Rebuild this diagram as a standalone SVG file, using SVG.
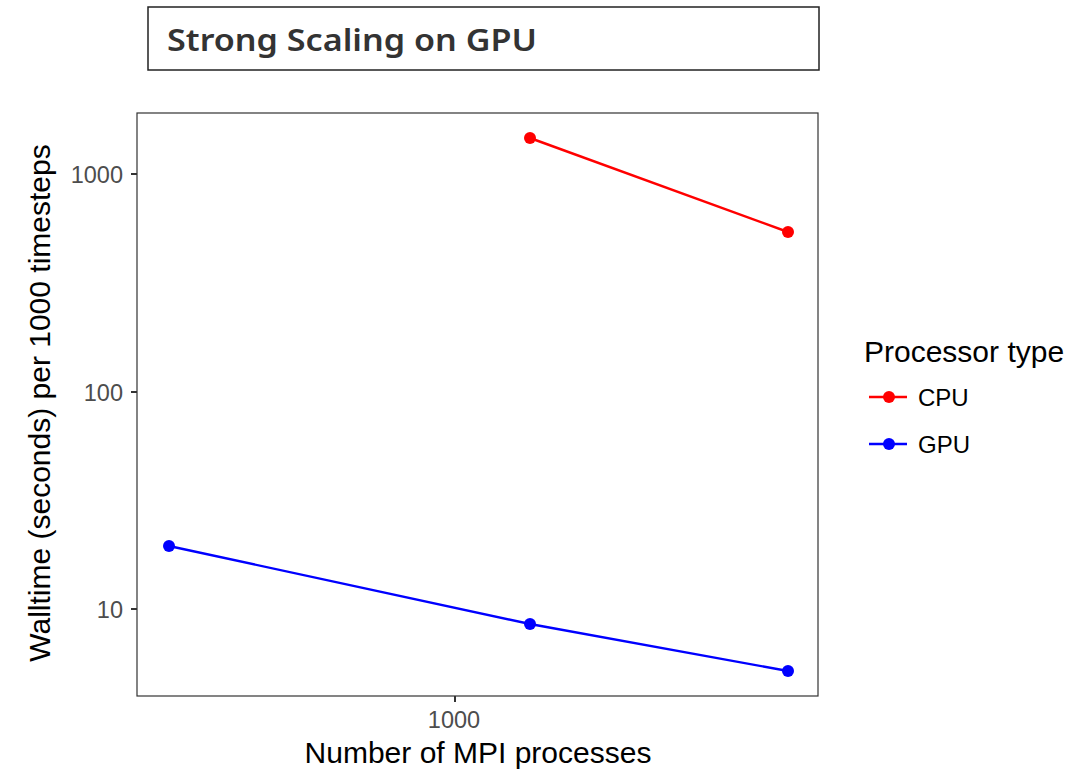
<svg xmlns="http://www.w3.org/2000/svg" width="1091" height="775" viewBox="0 0 1091 775">
<style>
.tick{font-family:"Liberation Sans",Arial,sans-serif;font-size:23.5px;fill:#4d4d4d}
.lab{font-family:"Liberation Sans",Arial,sans-serif;font-size:30px;fill:#000}
.leg{font-family:"Liberation Sans",Arial,sans-serif;font-size:24px;fill:#000}
.tk{stroke:#333;stroke-width:2}
</style>
<rect width="1091" height="775" fill="#fff"/>
<g id="title">
<rect x="148" y="7" width="671" height="63" fill="#fff" stroke="#222" stroke-width="1.5"/>
<text x="167" y="51" font-family="'Noto Sans','Open Sans',sans-serif" font-weight="600" font-size="31" fill="#333" textLength="370" lengthAdjust="spacingAndGlyphs">Strong Scaling on GPU</text>
</g>
<g id="panel">
<rect x="137" y="113" width="681" height="583" fill="#fff" stroke="#333" stroke-width="1.2"/>
<line class="tk" x1="131" y1="174" x2="137" y2="174"/>
<line class="tk" x1="131" y1="392" x2="137" y2="392"/>
<line class="tk" x1="131" y1="609" x2="137" y2="609"/>
<line class="tk" x1="455" y1="696" x2="455" y2="702"/>
<text class="tick" x="123" y="183" text-anchor="end">1000</text>
<text class="tick" x="123" y="401" text-anchor="end">100</text>
<text class="tick" x="123" y="618" text-anchor="end">10</text>
<text class="tick" x="454" y="728" text-anchor="middle">1000</text>
<text class="lab" x="478" y="763" text-anchor="middle">Number of MPI processes</text>
<text class="lab" x="0" y="0" text-anchor="middle" transform="translate(50,403) rotate(-90)">Walltime (seconds) per 1000 timesteps</text>
</g>
<g id="connectors">
<polyline points="530,138 788,232" fill="none" stroke="#ff0000" stroke-width="2.4"/>
<polyline points="169,546 530,624 788,671" fill="none" stroke="#0000ff" stroke-width="2.4"/>
</g>
<g id="cpu-points" fill="#ff0000">
<circle cx="530" cy="138" r="6"/>
<circle cx="788" cy="232" r="6"/>
</g>
<g id="gpu-points" fill="#0000ff">
<circle cx="169" cy="546" r="6"/>
<circle cx="530" cy="624" r="6"/>
<circle cx="788" cy="671" r="6"/>
</g>
<g id="legend">
<text class="lab" x="864" y="362">Processor type</text>
<line x1="869" y1="397" x2="907" y2="397" stroke="#ff0000" stroke-width="2.4"/>
<circle cx="889" cy="397" r="6" fill="#ff0000"/>
<text class="leg" x="918" y="406">CPU</text>
<line x1="869" y1="444" x2="907" y2="444" stroke="#0000ff" stroke-width="2.4"/>
<circle cx="889" cy="444" r="6" fill="#0000ff"/>
<text class="leg" x="918" y="453">GPU</text>
</g>
</svg>
